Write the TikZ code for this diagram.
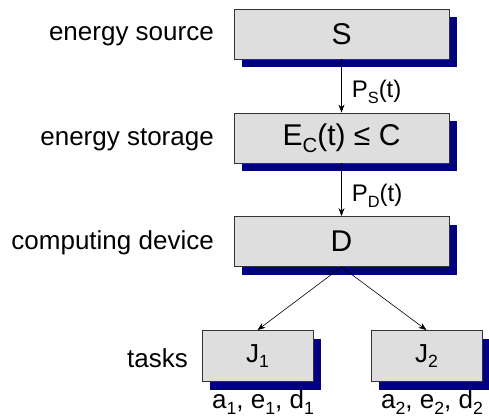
\documentclass[tikz,border=0pt]{standalone}
\usepackage{fontspec}
\setmainfont{Liberation Sans}
\usetikzlibrary{arrows.meta,shadows}
\colorlet{boxcol}{black!13}
\definecolor{shadcol}{RGB}{0,0,128}
\newcommand{\lowsub}[1]{\raisebox{-0.42ex}{\scalebox{0.68}{#1}}}
\tikzset{
  block/.style={draw=black!80, fill=boxcol, line width=0.8pt,
                minimum width=215pt, minimum height=50pt, inner sep=0,
                drop shadow={shadow xshift=8pt, shadow yshift=-8pt,
                             fill=shadcol, opacity=1},
                font=\fontsize{30}{36}\selectfont},
  task/.style={block, minimum width=111pt, minimum height=51pt,
               font=\fontsize{26}{31}\selectfont},
  side label/.style={anchor=east, inner sep=0, font=\fontsize{26}{31}\selectfont},
  param label/.style={inner sep=0, font=\fontsize{26}{31}\selectfont},
  flow arrow/.style={-{Stealth[length=8pt,width=6pt]}, line width=0.7pt},
  flow label/.style={anchor=west, inner sep=0, xshift=10pt, yshift=-6pt,
                     font=\fontsize{24}{29}\selectfont},
}

\begin{document}
\begin{tikzpicture}[x=1pt, y=-1pt]
    % canvas in pixels of the 489 x 418 layout, y pointing down
    \useasboundingbox (0,0) rectangle (489,418);

    % === Blocks ===
    \node[block] (src)  at (341.5, 34)  {S};
    \node[block] (stor) at (341.5, 138) {E\lowsub{C}(t) ≤ C};
    \node[block] (dev)  at (341.5, 241.5) {D};
    \node[task]  (job1) at (257.5, 356) {J\lowsub{1}};
    \node[task]  (job2) at (426.5, 356) {J\lowsub{2}};

    % === Side labels ===
    \node[side label] (lsrc)  at (214, 36)  {energy source};
    \node[side label] (lstor) at (214, 140) {energy storage};
    \node[side label] (ldev)  at (214, 243) {computing device};
    \node[side label] (ljob)  at (188, 358) {tasks};

    % === Power flow ===
    \draw[flow arrow] (src) -- node[flow label] (ps) {P\lowsub{S}(t)} (stor);
    \draw[flow arrow] (stor) -- node[flow label] (pd) {P\lowsub{D}(t)} (dev);

    % === Task dispatch ===
    \draw[flow arrow, line width=0.6pt] (dev.south) -- (job1.north);
    \draw[flow arrow, line width=0.6pt] (dev.south) -- (job2.north);

    % task parameters
    \node[param label] (par1) at (263, 402) {a\lowsub{1}, e\lowsub{1}, d\lowsub{1}};
    \node[param label] (par2) at (432, 402) {a\lowsub{2}, e\lowsub{2}, d\lowsub{2}};

\end{tikzpicture}
\end{document}
